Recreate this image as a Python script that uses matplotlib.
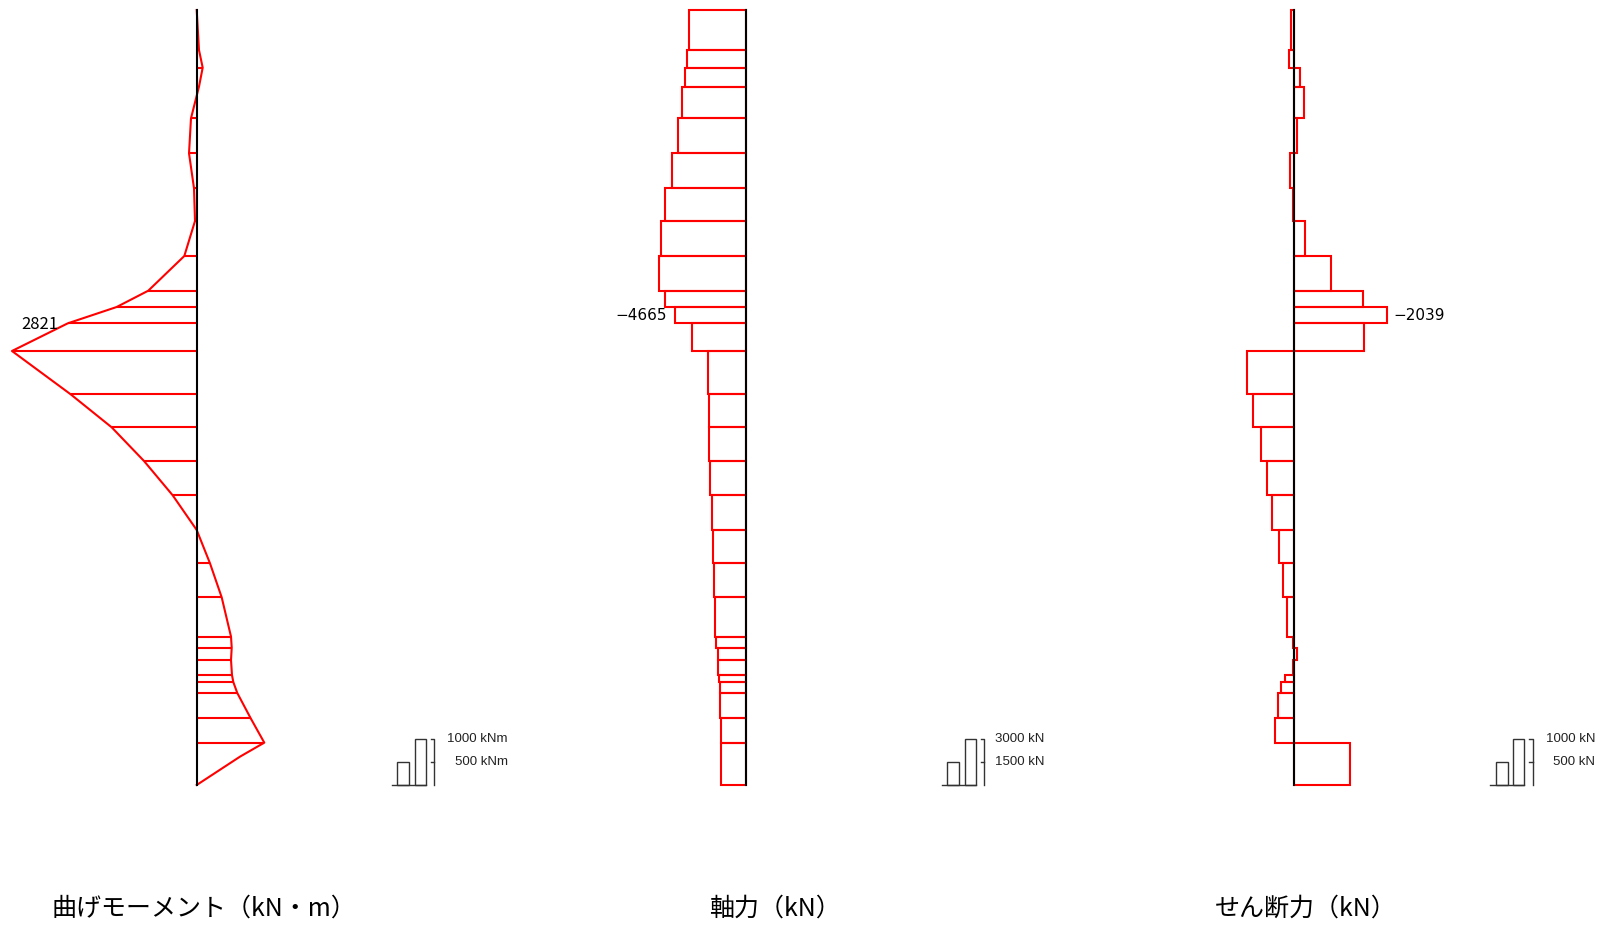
import matplotlib
matplotlib.use("Agg")
import matplotlib.pyplot as plt
import numpy as np

# node depths along the member (m, from top)
depth = [0.00, 1.20, 1.73, 2.30, 3.25, 4.30, 5.35, 6.33, 7.38, 8.42, 8.91, 9.40,
         10.23, 11.53, 12.52, 13.53, 14.56, 15.60, 16.60, 17.62, 18.80, 19.13,
         19.50, 19.95, 20.16, 20.49, 21.25, 21.98, 23.25]

# bending moment at nodes (kN*m), positive drawn to the left
moment = [0, -50, -131, -50, 125, 168, 59, 37, 271, 1059, 1751, 2821,
          4042, 2757, 1860, 1153, 525, 0, -291, -547, -751, -766,
          -751, -772, -801, -888, -1182, -1479, 0]
# one extra kink inside the last element
moment_extra_depth = [22.40]
moment_extra = [-947]

# axial force per element (kN)
axial = [-3702, -3834, -3965, -4201, -4464, -4838, -5278, -5580, -5672, -5298,
         -4665, -3525, -2455, -2409, -2389, -2324, -2232, -2127, -2061, -1996,
         -1930, -1838, -1799, -1733, -1707, -1667, -1641, -1621]

# shear force per element (kN), positive drawn to the left
shear = [59, 109, -131, -219, -72, 88, 28, -247, -803, -1516,
         -2039, -1532, 1035, 891, 729, 597, 475, 322, 241, 153,
         28, -72, 28, 197, 278, 357, 416, -1225]

label_node_moment = 11
label_elem = 10

titles = ["曲げモーメント（kN・m）", "軸力（kN）", "せん断力（kN）"]
scale_vals = [[500, 1000], [1500, 3000], [500, 1000]]
scale_units = ["kNm", "kN", "kN"]

# ---- layout (pixels)
W, H = 1607, 925
TOP_PX = 10
PX_PER_M = 775 / 23.25
PX_PER_1000 = 45.7

RED = "#ff0000"
cjk = ["Noto Sans CJK JP", "DejaVu Sans"]
minus_font = ["DejaVu Sans"]

fig = plt.figure(figsize=(W / 100, H / 100), dpi=100)
fig.patch.set_facecolor("white")


def add_panel(axis_px, px_per_unit, left_px, right_px, flip):
    ax = fig.add_axes([left_px / W, 0, (right_px - left_px) / W, 1])
    lo = (left_px - axis_px) / px_per_unit
    hi = (right_px - axis_px) / px_per_unit
    if flip:
        ax.set_xlim(-lo, -hi)
    else:
        ax.set_xlim(lo, hi)
    ax.set_ylim((H - TOP_PX) / PX_PER_M, -TOP_PX / PX_PER_M)
    ax.set_facecolor("none")
    ax.axis("off")
    return ax


def add_scale(x0_px, px_per_unit, vals, unit, text_right):
    ax = fig.add_axes([x0_px / W, (H - 785) / H, 45 / W, 50 / H])
    ax.set_xlim(0, 45)
    ax.set_ylim(0, 50 / px_per_unit)
    ax.set_facecolor("none")
    ax.axis("off")
    c = "#333333"
    ax.bar([5.6, 23.3], vals, width=[12, 10.7], align="edge", fill=False,
           edgecolor=c, linewidth=1, clip_on=False)
    ax.plot([0, 34], [0, 0], color=c, lw=1, clip_on=False)
    ax.plot([39, 42.6, 42.6], [vals[1], vals[1], 0], color=c, lw=1, clip_on=False)
    ax.plot([39, 42.6], [vals[0], vals[0]], color=c, lw=1, clip_on=False)
    for v in vals:
        ax.text(text_right, v, f"{v} {unit}", ha="right", va="center",
                fontsize=9.5, family="Liberation Sans", color="#222222", clip_on=False)


d = np.array(depth)
thick = np.diff(d)

# ---- bending moment
ax1 = add_panel(196.7, PX_PER_1000 / 1000, 0, 380, True)
md = np.concatenate([d, moment_extra_depth])
mv = np.concatenate([moment, moment_extra])
order = np.argsort(md)
ax1.plot(mv[order], md[order], color=RED, lw=1.5, clip_on=False)
ax1.hlines(d, 0, moment, color=RED, lw=1.5)
ax1.plot([0, 0], [d[0], d[-1]], color="black", lw=1.5, zorder=3)
ax1.annotate(f"{moment[label_node_moment]}", (moment[label_node_moment], d[label_node_moment]),
             xytext=(-6.5, -1), textcoords="offset points", ha="right", va="center",
             fontsize=12, family=cjk)

# ---- axial force
ax2 = add_panel(745.7, PX_PER_1000 / 3000, 560, 900, False)
ax2.barh(d[:-1], axial, height=thick, align="edge", fill=False, edgecolor=RED, lw=1.5)
ax2.plot([0, 0], [d[0], d[-1]], color="black", lw=1.5, zorder=3)
ym = d[label_elem] + thick[label_elem] / 2
ax2.annotate(f"{axial[label_elem]}".replace("-", "\u2212"), (axial[label_elem], ym),
             xytext=(-5.5, -0.5), textcoords="offset points", ha="right", va="center",
             fontsize=11, family=minus_font)

# ---- shear force
ax3 = add_panel(1294, PX_PER_1000 / 1000, 1100, 1470, True)
ax3.barh(d[:-1], shear, height=thick, align="edge", fill=False, edgecolor=RED, lw=1.5)
ax3.plot([0, 0], [d[0], d[-1]], color="black", lw=1.5, zorder=3)
ax3.annotate(f"{shear[label_elem]}".replace("-", "\u2212"), (shear[label_elem], ym),
             xytext=(4.5, -0.5), textcoords="offset points", ha="left", va="center",
             fontsize=11, family=minus_font)

# ---- scale legends
add_scale(391.7, PX_PER_1000 / 1000, scale_vals[0], scale_units[0], 116)
add_scale(941.7, PX_PER_1000 / 3000, scale_vals[1], scale_units[1], 103)
add_scale(1490, PX_PER_1000 / 1000, scale_vals[2], scale_units[2], 105)

# ---- titles
for t, cx in zip(titles, [204, 775, 1306]):
    fig.text(cx / W, 1 - 909 / H, t, ha="center", va="center", fontsize=18, family=cjk)

fig.savefig("out.png", dpi=100, facecolor="white")
